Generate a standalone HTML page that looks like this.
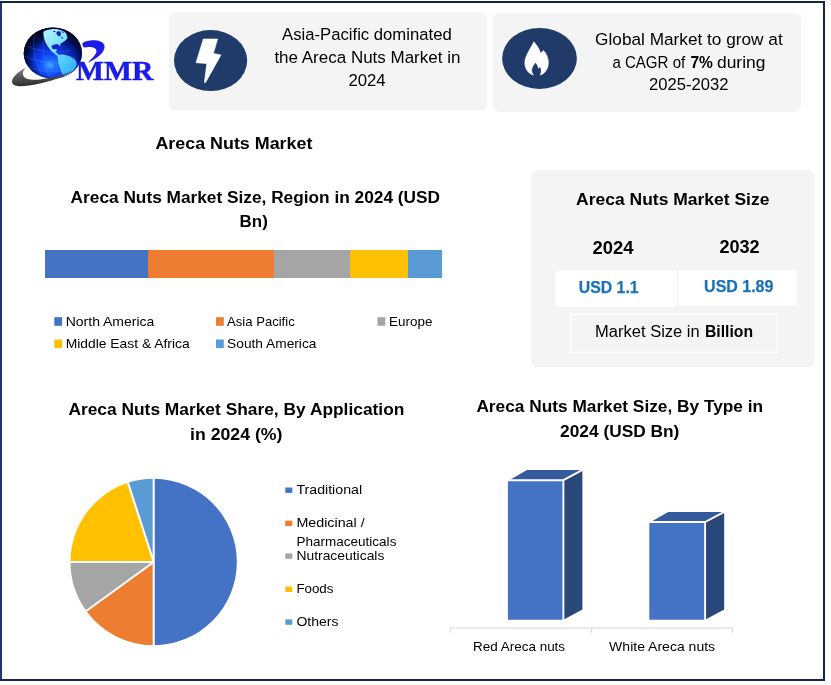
<!DOCTYPE html>
<html lang="en">
<head>
<meta charset="utf-8">
<title>Areca Nuts Market</title>
<style>
html,body{margin:0;padding:0;background:#fff;}
body{width:831px;height:685px;overflow:hidden;font-family:"Liberation Sans",sans-serif;}
svg{display:block;}
text{font-family:"Liberation Sans",sans-serif;fill:#000;}
.b{font-weight:bold;}
.serif{font-family:"Liberation Serif",serif;font-weight:bold;}
</style>
</head>
<body>
<svg width="831" height="685" viewBox="0 0 831 685">
<defs>
  <radialGradient id="gl" cx="0.47" cy="0.72" r="0.66" fx="0.45" fy="0.74">
    <stop offset="0" stop-color="#4aa8ff"/>
    <stop offset="0.14" stop-color="#1f70ff"/>
    <stop offset="0.36" stop-color="#0b3df0"/>
    <stop offset="0.58" stop-color="#0829c4"/>
    <stop offset="0.78" stop-color="#051777"/>
    <stop offset="1" stop-color="#010830"/>
  </radialGradient>
  <radialGradient id="rim" cx="0.55" cy="0.6" r="0.58">
    <stop offset="0" stop-color="#000628" stop-opacity="0"/>
    <stop offset="0.62" stop-color="#000628" stop-opacity="0"/>
    <stop offset="0.80" stop-color="#000628" stop-opacity="0.5"/>
    <stop offset="0.92" stop-color="#000628" stop-opacity="0.9"/>
    <stop offset="1" stop-color="#000628" stop-opacity="1"/>
  </radialGradient>
  <linearGradient id="sw" x1="0.2" y1="0" x2="0.5" y2="1">
    <stop offset="0" stop-color="#8a8a8a"/>
    <stop offset="0.45" stop-color="#555555"/>
    <stop offset="1" stop-color="#262626"/>
  </linearGradient>
  <linearGradient id="na" x1="0" y1="0" x2="1" y2="1">
    <stop offset="0" stop-color="#b4f4ff"/>
    <stop offset="0.6" stop-color="#7fe2ff"/>
    <stop offset="1" stop-color="#55ccff"/>
  </linearGradient>
  <linearGradient id="sa" x1="0" y1="0" x2="1" y2="1">
    <stop offset="0" stop-color="#6ad8ff"/>
    <stop offset="0.6" stop-color="#3dbcff"/>
    <stop offset="1" stop-color="#2a9cf0"/>
  </linearGradient>
  <clipPath id="gc"><ellipse cx="52.9" cy="53.2" rx="29.2" ry="25.6"/></clipPath>
  <filter id="soft" x="-5%" y="-5%" width="110%" height="110%"><feGaussianBlur stdDeviation="0.35"/></filter>
</defs>

<!-- page background + frame -->
<rect x="0" y="0" width="831" height="685" fill="#ffffff"/>
<rect x="1" y="2" width="823" height="678" fill="none" stroke="#16264a" stroke-width="2"/>
<rect x="0" y="3" width="2" height="676" fill="#1f376a"/>

<!-- header cards -->
<rect x="169" y="12" width="317.9" height="98.7" rx="6.5" fill="#f4f4f4"/>
<rect x="493" y="12.7" width="308" height="99.2" rx="6.5" fill="#f4f4f4"/>

<!-- logo -->
<g id="logo" filter="url(#soft)">
  <ellipse cx="52.9" cy="53.2" rx="29.2" ry="25.6" fill="url(#gl)"/>
  <ellipse cx="52.9" cy="53.2" rx="29.2" ry="25.6" fill="url(#rim)"/>
  <g clip-path="url(#gc)">
    <g fill="none" stroke="#6fb4ff" stroke-width="0.45" opacity="0.45">
      <path d="M36 30 C31 44 34 64 44 78 M45 28 C41 44 43 64 51 79 M27 46 C40 52 56 54 70 50 M24.5 56 C38 63 58 65 76 58 M27 66 C40 72 56 73 70 69 M56 50 C55 60 57 70 61 78"/>
    </g>
    <path d="M43.5 31.8 C45 30.3 47.5 29.6 50 29.4 C53 29 56 29 58.5 29.4 C61 29.8 63.5 30.8 65 32.2 C66.5 33.8 67.6 36.3 67.4 38.6 C66.3 40 65 41 63.7 41.7 C62.5 42.4 61.3 43 60.6 43.6 C60.3 44.6 60.3 45.6 59.9 46.6 C59.2 45.8 58.8 45 58.4 44.5 C57.3 44.2 56 44.2 55 44.4 C53.7 44.7 52.5 45.2 51.8 46 C51.4 47 51.8 48.2 52.8 49 C53.8 49.4 55 49.2 56 49 C56.8 49.4 57.2 50 56.8 50.6 C56.3 51 55.8 51.2 55.6 51.4 C56.3 52.4 57.5 53.6 59 55 L57 55.5 C55 54.2 52.5 52.3 50.5 50 C48.5 47.8 46.8 45.3 45.5 42.5 C44.4 40 43.8 37 43.6 34.5 C43.4 33.3 43.4 32.4 43.5 31.8 Z" fill="url(#na)"/>
    <path d="M56.8 55.2 C59 54.4 62 54.3 64.5 54.8 C68 55.4 71.5 57 74 59 C76 60.6 77.2 62.3 77 64 C76.4 67 74 70.2 71 72.8 C68.5 74.8 65.5 76.5 63.8 76.6 C62 74 60.6 70.5 59.5 67 C58.4 63.5 57.6 60 57.6 57.5 Z" fill="url(#sa)"/>
    <g fill="#0a25b0">
      <path d="M56.4 32.6 C57.2 31.4 58.8 30.9 60 31.6 C61 32.4 61.2 34.2 60.6 35.6 C60 36.6 58.8 36.7 58 35.8 C57.2 34.9 56 33.8 56.4 32.6 Z"/>
      <path d="M60.8 37.4 C61.6 36.9 62.8 37.2 63.3 38 C62.6 38.8 61.4 38.7 60.8 37.4 Z"/>
      <path d="M61.5 31.3 C62.5 31.2 63.6 31.9 64 32.8 C63 33 61.9 32.4 61.5 31.3 Z"/>
      <ellipse cx="54.3" cy="31.3" rx="1.3" ry="0.6"/>
    </g>
  </g>
  <path d="M26 67.5 C17 72 10.5 79 12.3 83 C14 87.5 24 86.6 34 84.8 C50 82 66 76 76.5 69.3 C66 74 52 78.2 40 79.5 C32 80.3 25.5 79.5 23.5 76 C22 73 23.5 70 26 67.5 Z" fill="url(#sw)"/>
  <path d="M82.4 43.2 C85 41 92 39.8 97 40.6 C101 41.2 104 43 104.5 46 C105 50 101.5 54.5 97 57.5 C93.5 60 90 61.8 87.3 62.7 C91 59.5 95 56 96.3 52.5 C97 50 95.8 48.3 93 47.5 C90 46.8 87 47 84.5 47.6 C83 47 82 45 82.4 43.2 Z" fill="#1a1ae6"/>
  <text class="serif" x="76.1" y="80.2" font-size="26.9" textLength="77.3" lengthAdjust="spacingAndGlyphs" style="fill:#1a1ae6;stroke:#1a1ae6;stroke-width:0.45">MMR</text>
</g>

<!-- icon 1 : bolt -->
<ellipse cx="210.6" cy="60.6" rx="36.6" ry="30.5" fill="#203a69"/>
<path d="M203.3 39 L217.6 39 L213.4 53.5 L221 54.9 L205.6 82.4 Q204.2 83.4 204.5 81.5 L206.8 63.6 L196 62.7 Z" fill="#ffffff" stroke="#ffffff" stroke-width="0.6" stroke-linejoin="round"/>

<!-- icon 2 : flame -->
<ellipse cx="539.5" cy="58.4" rx="37.4" ry="30.5" fill="#203a69"/>
<path d="M533.9 41.8 C537 45.4 539.6 49 540.4 52.9 C541.5 52.3 542.7 51.4 543.5 50.4 C546.8 54 548.6 58.5 548.4 63.2 C548.2 69.2 544.5 74 540 75.1 C541.8 72.6 541.4 68.8 540.2 66.4 C539.6 67.3 539.1 67.9 538.5 68.3 C538.1 66 536.8 64 535.4 62.4 C533.4 65.3 531.5 67.7 531.7 70.5 C531.8 72.4 532.6 73.9 533.6 75.1 C528.6 74 524.6 69 524.8 62.5 C524.8 57 529.5 50 533.9 41.8 Z" fill="#ffffff" stroke="#ffffff" stroke-width="0.5" stroke-linejoin="round"/>

<!-- header text -->
<g font-size="16.8">
  <text x="282.1" y="40" textLength="169.6" lengthAdjust="spacingAndGlyphs">Asia-Pacific dominated</text>
  <text x="274.4" y="63.3" textLength="186.0" lengthAdjust="spacingAndGlyphs">the Areca Nuts Market in</text>
  <text x="348.4" y="86" textLength="37.3" lengthAdjust="spacingAndGlyphs">2024</text>
  <text x="595.1" y="45" textLength="187.6" lengthAdjust="spacingAndGlyphs">Global Market to grow at</text>
  <text x="612.4" y="67.7" textLength="72.8" lengthAdjust="spacingAndGlyphs">a CAGR of</text>
  <text class="b" x="690.4" y="67.7" textLength="22.5" lengthAdjust="spacingAndGlyphs">7%</text>
  <text x="717.0" y="67.7" textLength="48.4" lengthAdjust="spacingAndGlyphs">during</text>
  <text x="649.1" y="90.3" textLength="79.3" lengthAdjust="spacingAndGlyphs">2025-2032</text>
</g>

<!-- main title -->
<text class="b" x="155.4" y="148.6" font-size="17.2" textLength="157.0" lengthAdjust="spacingAndGlyphs">Areca Nuts Market</text>

<!-- stacked bar chart -->
<g class="b" font-size="17.2">
  <text class="b" x="70.6" y="202.7" textLength="369.4" lengthAdjust="spacingAndGlyphs">Areca Nuts Market Size, Region in 2024 (USD</text>
  <text class="b" x="239.6" y="226.8" textLength="28.2" lengthAdjust="spacingAndGlyphs">Bn)</text>
</g>
<rect x="45" y="250" width="103" height="28" fill="#4472c4"/>
<rect x="148" y="250" width="126" height="28" fill="#ed7d31"/>
<rect x="274" y="250" width="76" height="28" fill="#a5a5a5"/>
<rect x="350" y="250" width="58" height="28" fill="#ffc000"/>
<rect x="408" y="250" width="34" height="28" fill="#5b9bd5"/>

<rect x="54.3" y="317.2" width="7.8" height="8.6" fill="#4472c4"/>
<rect x="216" y="317.2" width="7.8" height="8.6" fill="#ed7d31"/>
<rect x="377.5" y="317.2" width="7.8" height="8.6" fill="#a5a5a5"/>
<rect x="54.3" y="339.5" width="7.8" height="8.6" fill="#ffc000"/>
<rect x="216" y="339.5" width="7.8" height="8.6" fill="#5b9bd5"/>
<g font-size="13.2">
  <text x="65.7" y="326" textLength="88.7" lengthAdjust="spacingAndGlyphs">North America</text>
  <text x="227.1" y="326" textLength="67.6" lengthAdjust="spacingAndGlyphs">Asia Pacific</text>
  <text x="389.1" y="326" textLength="43.3" lengthAdjust="spacingAndGlyphs">Europe</text>
  <text x="65.7" y="348" textLength="124.0" lengthAdjust="spacingAndGlyphs">Middle East &amp; Africa</text>
  <text x="227.1" y="348" textLength="89.3" lengthAdjust="spacingAndGlyphs">South America</text>
</g>

<!-- market size card -->
<rect x="531.1" y="169.9" width="283.5" height="197" rx="6.5" fill="#f4f4f4"/>
<text class="b" x="576.1" y="204.7" font-size="17.2" textLength="193.3" lengthAdjust="spacingAndGlyphs">Areca Nuts Market Size</text>
<text class="b" x="592.4" y="254" font-size="18" textLength="41.0" lengthAdjust="spacingAndGlyphs">2024</text>
<text class="b" x="719.4" y="253" font-size="18" textLength="40.3" lengthAdjust="spacingAndGlyphs">2032</text>
<rect x="555.7" y="270.7" width="121" height="36.3" rx="3" fill="#ffffff"/>
<rect x="678" y="270.7" width="119" height="35" rx="3" fill="#ffffff"/>
<text class="b" x="578.7" y="293" font-size="15.6" textLength="60.0" lengthAdjust="spacingAndGlyphs" style="fill:#1a72b8;stroke:#1a72b8;stroke-width:0.25">USD 1.1</text>
<text class="b" x="704.1" y="292" font-size="15.6" textLength="69.3" lengthAdjust="spacingAndGlyphs" style="fill:#1a72b8;stroke:#1a72b8;stroke-width:0.25">USD 1.89</text>
<rect x="570.9" y="314.3" width="206.8" height="38" fill="none" stroke="#ffffff" stroke-width="1.2"/>
<text x="595.1" y="337" font-size="15.6" textLength="104.6" lengthAdjust="spacingAndGlyphs">Market Size in</text>
<text class="b" x="705.0" y="337" font-size="15.6" textLength="48.1" lengthAdjust="spacingAndGlyphs">Billion</text>

<!-- pie chart -->
<g class="b" font-size="17.2">
  <text class="b" x="68.4" y="415.3" textLength="336.0" lengthAdjust="spacingAndGlyphs">Areca Nuts Market Share, By Application</text>
  <text class="b" x="190.1" y="439.7" textLength="92.3" lengthAdjust="spacingAndGlyphs">in 2024 (%)</text>
</g>
<g id="pie">
  <path d="M153.7 562.0 L153.70 478.80 A83.2 83.2 0 0 1 153.70 645.20 Z" fill="#4472c4"/>
  <path d="M153.7 562.0 L153.70 645.20 A83.2 83.2 0 0 1 86.39 610.90 Z" fill="#ed7d31"/>
  <path d="M153.7 562.0 L86.39 610.90 A83.2 83.2 0 0 1 70.50 562.00 Z" fill="#a5a5a5"/>
  <path d="M153.7 562.0 L70.50 562.00 A83.2 83.2 0 0 1 127.99 482.87 Z" fill="#ffc000"/>
  <path d="M153.7 562.0 L127.99 482.87 A83.2 83.2 0 0 1 153.70 478.80 Z" fill="#5b9bd5"/>
  <path d="M153.7 562.0 L153.70 477.80 M153.7 562.0 L153.70 646.20 M153.7 562.0 L85.58 611.49 M153.7 562.0 L69.50 562.00 M153.7 562.0 L127.68 481.92" fill="none" stroke="#ffffff" stroke-width="2.1" stroke-linejoin="round"/>
</g>
<rect x="285.3" y="487.5" width="7" height="5.4" fill="#4472c4"/>
<rect x="285.3" y="520.6" width="7" height="5.4" fill="#ed7d31"/>
<rect x="285.3" y="553.4" width="7" height="5.4" fill="#a5a5a5"/>
<rect x="285.3" y="586.6" width="7" height="5.4" fill="#ffc000"/>
<rect x="285.3" y="619.4" width="7" height="5.4" fill="#5b9bd5"/>
<g font-size="13.2">
  <text x="296.4" y="494" textLength="65.7" lengthAdjust="spacingAndGlyphs">Traditional</text>
  <text x="296.4" y="527" textLength="68.3" lengthAdjust="spacingAndGlyphs">Medicinal /</text>
  <text x="296.4" y="546" textLength="100.0" lengthAdjust="spacingAndGlyphs">Pharmaceuticals</text>
  <text x="296.4" y="560" textLength="88.0" lengthAdjust="spacingAndGlyphs">Nutraceuticals</text>
  <text x="296.4" y="593" textLength="37.0" lengthAdjust="spacingAndGlyphs">Foods</text>
  <text x="296.4" y="626" textLength="42.0" lengthAdjust="spacingAndGlyphs">Others</text>
</g>

<!-- 3d bar chart -->
<g class="b" font-size="17.2">
  <text class="b" x="476.4" y="412.3" textLength="286.7" lengthAdjust="spacingAndGlyphs">Areca Nuts Market Size, By Type in</text>
  <text class="b" x="560.1" y="437" textLength="119.3" lengthAdjust="spacingAndGlyphs">2024 (USD Bn)</text>
</g>
<g id="bars">
  <path d="M507.9 481 L526.9 470 L582.4 470 L563.4 481 Z" fill="#365b9d"/>
  <path d="M563.4 481 L582.4 470 L582.4 609.6 L563.4 619.7 Z" fill="#2a477a"/>
  <path d="M507.9 481 H563.4 V619.7 H507.9 Z" fill="#4472c4"/>
  <path d="M649.3 522.8 L668.3 512 L724.2 512 L705.1 522.8 Z" fill="#365b9d"/>
  <path d="M705.1 522.8 L724.2 512 L724.2 609.6 L705.1 619.7 Z" fill="#2a477a"/>
  <path d="M649.3 522.8 H705.1 V619.7 H649.3 Z" fill="#4472c4"/>
  <g fill="none" stroke="#ffffff" stroke-width="1.9" stroke-linecap="butt" stroke-linejoin="miter">
    <path d="M507.9 480.2 H563.4 V619.9 M563.4 480.2 L583 469.6"/>
    <path d="M649.3 522 H705.1 V619.9 M705.1 522 L724.8 511.6"/>
  </g>
</g>
<path d="M450.2 633 V628.1 H591.7 V633 M591.7 628.1 H732.3 V633" fill="none" stroke="#d6d6d6" stroke-width="1"/>
<g font-size="13.2">
  <text x="473.1" y="651.2" textLength="92.0" lengthAdjust="spacingAndGlyphs">Red Areca nuts</text>
  <text x="609.1" y="651.2" textLength="106.0" lengthAdjust="spacingAndGlyphs">White Areca nuts</text>
</g>
</svg>
</body>
</html>
